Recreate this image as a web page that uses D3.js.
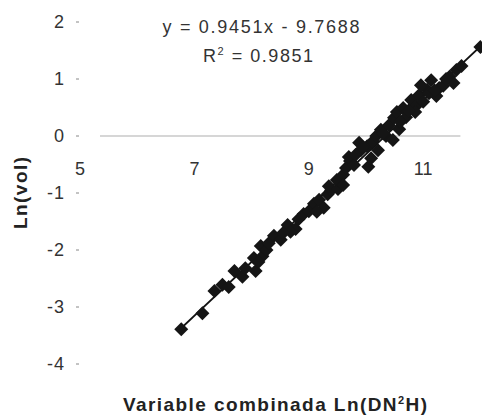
<!DOCTYPE html>
<html>
<head>
<meta charset="utf-8">
<script src="https://cdn.jsdelivr.net/npm/d3@7"></script>
<style>
body{margin:0;background:#fff;}
svg{display:block;font-family:"Liberation Sans",Arial,sans-serif;}
.tick-label{fill:#333;font-size:18px;}
.title{fill:#222;font-size:19px;font-weight:bold;}
</style>
</head>
<body>
<div id="plot"></div>
<script>
//Chart values
var lnDN2H = [6.77,7.14,7.35,7.49,7.60,7.70,7.84,7.89,8.07,8.04,8.19,8.12,8.16,8.26,8.30,8.39,8.51,8.63,8.77,8.68,
	8.82,8.91,9.00,9.09,9.18,9.26,9.33,9.39,9.35,9.51,9.49,9.60,9.65,9.72,9.79,9.70,9.82,9.91,10.04,10.02,
	10.12,10.21,10.18,10.26,10.35,10.40,10.49,10.58,10.54,10.65,10.70,10.79,10.88,10.93,11.00,11.07,11.14,11.23,11.28,11.35,
	11.46,11.58,11.53,11.67,12.00,10.47,10.09,9.88,10.86,10.96,9.60,9.14,8.55,10.30,10.75,11.10,11.40,9.95,10.60,11.20];
var lnVol = [-3.39,-3.11,-2.72,-2.61,-2.65,-2.37,-2.47,-2.32,-2.37,-2.14,-2.11,-2.21,-1.93,-2.00,-1.88,-1.75,-1.82,-1.56,-1.63,-1.68,
	-1.46,-1.37,-1.32,-1.19,-1.12,-1.26,-1.02,-0.95,-0.88,-0.93,-0.77,-0.68,-0.56,-0.44,-0.51,-0.37,-0.33,-0.25,-0.54,-0.18,
	-0.09,-0.25,0.00,0.11,0.00,0.19,0.32,0.12,0.42,0.49,0.33,0.63,0.53,0.72,0.60,0.81,0.98,0.70,0.84,0.88,
	1.04,1.16,0.93,1.23,1.56,-0.07,-0.39,-0.12,0.42,0.89,-0.86,-1.33,-1.70,0.05,0.45,0.75,1.00,-0.20,0.25,0.80];
var xTicks = [5,7,9,11],
	yTicks = [2,1,0,-1,-2,-3,-4];
var SLOPE = 0.9451, INTERCEPT = -9.7688, R2 = 0.9851;

var W = 482, H = 415;
var svg = d3.select('#plot').append('svg')
	.attr('width',W).attr('height',H);

var scaleX = d3.scaleLinear().domain([5,12]).range([80,480.4]),
	scaleY = d3.scaleLinear().domain([-4,2]).range([364,22]);

//x axis line at y = 0 (faint in the scan)
svg.append('line')
	.attr('x1',scaleX(5)+20).attr('x2',scaleX(12)-20)
	.attr('y1',scaleY(0)).attr('y2',scaleY(0))
	.attr('stroke','#c8c8c8').attr('stroke-width',1.5);

//x tick labels sit below the zero line
svg.selectAll('.x-label')
	.data(xTicks)
	.enter()
	.append('text').attr('class','tick-label x-label')
	.attr('x',function(d){return scaleX(d)})
	.attr('y',scaleY(0)+39)
	.attr('text-anchor','middle')
	.text(function(d){return d});

//y ticks: small dashes and labels
var yTick = svg.selectAll('.y-tick')
	.data(yTicks)
	.enter()
	.append('g').attr('class','y-tick')
	.attr('transform',function(d){return 'translate(0,'+scaleY(d)+')'});
yTick.append('line')
	.attr('x1',76).attr('x2',79)
	.attr('stroke','#888').attr('stroke-width',1);
yTick.append('text').attr('class','tick-label')
	.attr('x',65)
	.attr('dy','0.35em')
	.attr('text-anchor','end')
	.style('letter-spacing','1px')
	.text(function(d){return d});

//trend line
var xMin = d3.min(lnDN2H), xMax = d3.max(lnDN2H);
svg.append('line')
	.attr('x1',scaleX(xMin)).attr('y1',scaleY(SLOPE*xMin+INTERCEPT))
	.attr('x2',scaleX(xMax)).attr('y2',scaleY(SLOPE*xMax+INTERCEPT))
	.attr('stroke','#111').attr('stroke-width',2);

//diamond markers
var diamond = 'M0,-7L7,0L0,7L-7,0Z';
svg.selectAll('.pt')
	.data(d3.zip(lnDN2H,lnVol))
	.enter()
	.append('path').attr('class','pt')
	.attr('d',diamond)
	.attr('transform',function(d){return 'translate('+scaleX(d[0])+','+scaleY(d[1])+')'})
	.attr('fill','#151515');

//equation
svg.append('text').attr('class','tick-label')
	.attr('x',261).attr('y',33)
	.attr('text-anchor','middle')
	.attr('textLength',197).attr('lengthAdjust','spacing')
	.text('y = '+SLOPE+'x - '+Math.abs(INTERCEPT));
var r2 = svg.append('text').attr('class','tick-label')
	.attr('x',258).attr('y',62)
	.attr('text-anchor','middle')
	.attr('textLength',110).attr('lengthAdjust','spacing');
r2.append('tspan').text('R');
r2.append('tspan').attr('dy',-7).style('font-size','11px').text('2');
r2.append('tspan').attr('dy',7).text(' = '+R2);

//axis titles
var xt = svg.append('text').attr('class','title')
	.attr('x',275).attr('y',411)
	.attr('text-anchor','middle')
	.attr('textLength',304).attr('lengthAdjust','spacing');
xt.append('tspan').text('Variable combinada Ln(DN');
xt.append('tspan').attr('dy',-7).style('font-size','11px').text('2');
xt.append('tspan').attr('dy',7).text('H)');

svg.append('text').attr('class','title')
	.attr('transform','translate(27,193) rotate(-90)')
	.attr('text-anchor','middle')
	.attr('textLength',72).attr('lengthAdjust','spacing')
	.text('Ln(vol)');
</script>
</body>
</html>
